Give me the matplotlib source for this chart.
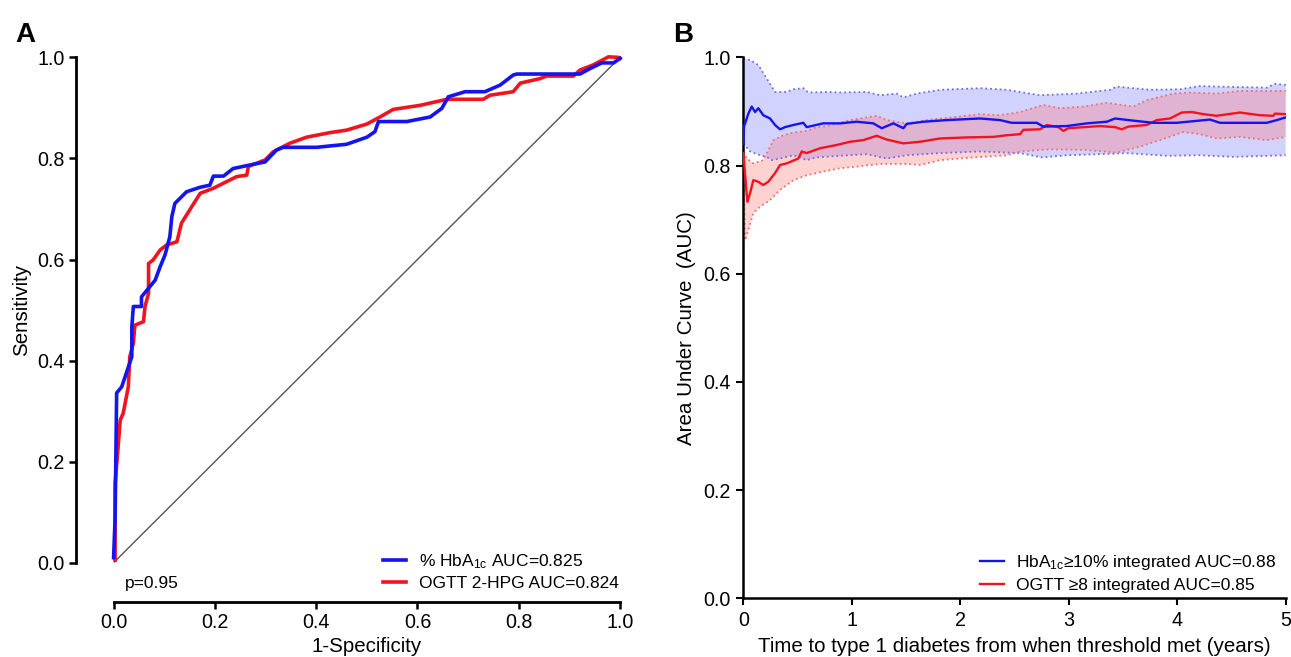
import numpy as np
import matplotlib
matplotlib.use("Agg")
import matplotlib.pyplot as plt

plt.rcParams['font.family'] = ['Liberation Sans', 'DejaVu Sans']
plt.rcParams['mathtext.fontset'] = 'custom'
plt.rcParams['mathtext.rm'] = 'Liberation Sans'
plt.rcParams['mathtext.it'] = 'Liberation Sans:italic'

# ---- panel A: ROC curves ----
hba1c_fpr = [0.0, 0.003, 0.006, 0.016, 0.036, 0.036, 0.039, 0.055, 0.055, 0.082, 0.092, 0.1015,
             0.111, 0.115, 0.121, 0.144, 0.171, 0.190, 0.197, 0.217, 0.236, 0.269, 0.299, 0.322,
             0.335, 0.401, 0.460, 0.500, 0.516, 0.523, 0.579, 0.625, 0.648, 0.661, 0.694, 0.733,
             0.763, 0.789, 0.796, 0.921, 0.941, 0.964, 0.987, 1.0]
hba1c_sens = [0.01, 0.09, 0.336, 0.348, 0.408, 0.467, 0.507, 0.507, 0.526, 0.559, 0.586, 0.609,
              0.645, 0.685, 0.711, 0.734, 0.743, 0.747, 0.765, 0.765, 0.780, 0.787, 0.793, 0.817,
              0.822, 0.822, 0.828, 0.842, 0.853, 0.873, 0.873, 0.882, 0.899, 0.922, 0.932, 0.932,
              0.945, 0.965, 0.967, 0.967, 0.978, 0.989, 0.989, 0.998]

ogtt_fpr = [0.003, 0.003, 0.009, 0.013, 0.019, 0.029, 0.032, 0.039, 0.042, 0.059, 0.062, 0.069,
            0.069, 0.078, 0.092, 0.105, 0.125, 0.134, 0.154, 0.171, 0.197, 0.223, 0.243, 0.263,
            0.266, 0.299, 0.315, 0.348, 0.381, 0.427, 0.460, 0.500, 0.526, 0.552, 0.605, 0.658,
            0.730, 0.743, 0.789, 0.803, 0.842, 0.855, 0.908, 0.921, 0.947, 0.977, 0.997, 1.0]
ogtt_sens = [0.005, 0.157, 0.23, 0.282, 0.296, 0.348, 0.408, 0.434, 0.470, 0.477, 0.507, 0.533,
             0.592, 0.599, 0.619, 0.629, 0.635, 0.672, 0.704, 0.731, 0.741, 0.754, 0.764, 0.767,
             0.784, 0.797, 0.813, 0.830, 0.842, 0.851, 0.856, 0.868, 0.882, 0.897, 0.905, 0.917,
             0.917, 0.925, 0.932, 0.949, 0.958, 0.963, 0.963, 0.975, 0.985, 1.001, 1.0, 0.998]

label_a1 = "% HbA$_{\\mathrm{1c}}$ AUC=0.825"
label_a2 = "OGTT 2-HPG AUC=0.824"
p_text = "p=0.95"

# ---- panel B: time-dependent AUC ----
hb_t = [0.0, 0.006, 0.046, 0.077, 0.108, 0.138, 0.184, 0.246, 0.292, 0.338, 0.384, 0.461, 0.553,
        0.584, 0.737, 0.891, 1.045, 1.198, 1.276, 1.383, 1.475, 1.506, 1.659, 1.875, 2.182, 2.366,
        2.474, 2.705, 2.766, 2.981, 3.166, 3.350, 3.427, 3.595, 3.780, 3.995, 4.302, 4.394, 4.825,
        4.917, 5.0]
hb_auc = [0.84, 0.872, 0.896, 0.909, 0.899, 0.906, 0.893, 0.887, 0.875, 0.867, 0.871, 0.875, 0.879,
          0.871, 0.878, 0.878, 0.881, 0.878, 0.869, 0.878, 0.869, 0.877, 0.881, 0.884, 0.887, 0.884,
          0.879, 0.879, 0.872, 0.873, 0.878, 0.881, 0.887, 0.883, 0.879, 0.879, 0.885, 0.879, 0.879,
          0.884, 0.889]
hb_up_t = [0.0, 0.062, 0.138, 0.215, 0.292, 0.400, 0.461, 0.553, 0.599, 0.769, 0.891, 1.138, 1.260,
           1.414, 1.475, 1.598, 1.813, 2.182, 2.428, 2.735, 3.073, 3.380, 3.442, 3.749, 4.026, 4.210,
           4.364, 4.825, 4.901, 5.0]
hb_up = [0.998, 0.995, 0.986, 0.961, 0.936, 0.936, 0.941, 0.943, 0.935, 0.936, 0.935, 0.936, 0.930,
         0.933, 0.926, 0.933, 0.940, 0.943, 0.940, 0.930, 0.933, 0.940, 0.946, 0.940, 0.941, 0.947,
         0.946, 0.944, 0.951, 0.949]
hb_lo_t = [0.0, 0.062, 0.154, 0.215, 0.262, 0.338, 0.461, 0.584, 0.676, 0.891, 1.138, 1.322, 1.506,
           1.813, 2.182, 2.428, 2.551, 2.751, 2.981, 3.288, 3.534, 3.903, 4.210, 4.517, 5.0]
hb_lo = [0.841, 0.826, 0.819, 0.816, 0.810, 0.813, 0.819, 0.810, 0.815, 0.818, 0.821, 0.813, 0.819,
         0.823, 0.826, 0.824, 0.823, 0.815, 0.819, 0.821, 0.823, 0.818, 0.819, 0.816, 0.819]

og_t = [0.0, 0.037, 0.062, 0.092, 0.138, 0.184, 0.230, 0.292, 0.338, 0.400, 0.507, 0.538, 0.584,
        0.707, 0.861, 0.984, 1.106, 1.230, 1.322, 1.475, 1.629, 1.813, 2.059, 2.305, 2.428, 2.551,
        2.581, 2.735, 2.797, 2.904, 2.950, 2.996, 3.288, 3.427, 3.488, 3.549, 3.719, 3.811, 3.934,
        4.041, 4.134, 4.240, 4.364, 4.579, 4.763, 4.886, 4.901, 5.0]
og_auc = [0.823, 0.733, 0.749, 0.773, 0.770, 0.764, 0.770, 0.786, 0.801, 0.804, 0.813, 0.826, 0.823,
          0.832, 0.838, 0.844, 0.847, 0.855, 0.848, 0.841, 0.844, 0.850, 0.852, 0.853, 0.856, 0.858,
          0.866, 0.867, 0.875, 0.871, 0.864, 0.869, 0.873, 0.871, 0.867, 0.872, 0.875, 0.884, 0.887,
          0.898, 0.899, 0.895, 0.892, 0.898, 0.893, 0.892, 0.896, 0.895]
og_up_t = [0.0, 0.031, 0.092, 0.184, 0.277, 0.369, 0.461, 0.584, 0.676, 0.769, 0.984, 1.138, 1.230,
           1.322, 1.506, 1.721, 1.967, 2.182, 2.366, 2.551, 2.766, 2.919, 3.134, 3.350, 3.595, 3.719,
           3.964, 4.118, 4.364, 4.579, 5.0]
og_up = [0.825, 0.813, 0.804, 0.810, 0.847, 0.856, 0.861, 0.864, 0.871, 0.873, 0.884, 0.889, 0.892,
         0.884, 0.878, 0.885, 0.890, 0.895, 0.893, 0.899, 0.912, 0.906, 0.909, 0.916, 0.909, 0.921,
         0.933, 0.935, 0.933, 0.938, 0.938]
og_lo_t = [0.0, 0.016, 0.046, 0.092, 0.154, 0.246, 0.338, 0.461, 0.584, 0.737, 0.891, 1.045, 1.260,
           1.506, 1.629, 1.813, 2.120, 2.428, 2.551, 2.827, 3.134, 3.442, 3.657, 3.841, 4.056, 4.210,
           4.364, 4.579, 4.825, 5.0]
og_lo = [0.80, 0.662, 0.681, 0.712, 0.724, 0.736, 0.755, 0.773, 0.782, 0.789, 0.795, 0.798, 0.803,
         0.803, 0.801, 0.810, 0.815, 0.819, 0.826, 0.830, 0.829, 0.824, 0.835, 0.847, 0.862, 0.858,
         0.850, 0.853, 0.847, 0.853]

label_b1 = "HbA$_{\\mathrm{1c}}$\u226510% integrated AUC=0.88"
label_b2 = "OGTT \u22658 integrated AUC=0.85"

blue = '#1414f0'
red = '#f0141e'
fs = 14.2
fs_lab = 14.8

fig = plt.figure(figsize=(12.91, 6.57), dpi=100)

# ---------- A ----------
ax = fig.add_axes([0.0880, 0.1435, 0.3923, 0.7692])
ax.plot([0, 1], [0, 1], color='#555555', lw=1.0, zorder=1)
ax.plot(hba1c_fpr, hba1c_sens, color=blue, lw=2.6, label=label_a1, zorder=3, clip_on=False)
ax.plot(ogtt_fpr, ogtt_sens, color=red, lw=2.6, label=label_a2, zorder=2, clip_on=False)
ax.set_xlim(0, 1)
ax.set_ylim(0, 1)
ax.set_xticks(np.arange(0, 1.01, 0.2))
ax.set_yticks(np.arange(0, 1.01, 0.2))
ax.set_xticklabels(["%.1f" % v for v in np.arange(0, 1.01, 0.2)])
ax.set_yticklabels(["%.1f" % v for v in np.arange(0, 1.01, 0.2)])
for s in ['top', 'right']:
    ax.spines[s].set_visible(False)
ax.spines['left'].set_position(('outward', 27.3))
ax.spines['bottom'].set_position(('outward', 28))
ax.spines['left'].set_bounds(0, 1)
ax.spines['bottom'].set_bounds(0, 1)
ax.spines['left'].set_linewidth(2)
ax.spines['bottom'].set_linewidth(2)
ax.tick_params(direction='out', length=5, width=1.8, labelsize=fs, pad=3)
ax.set_xlabel("1-Specificity", fontsize=fs_lab, labelpad=4)
ax.set_ylabel("Sensitivity", fontsize=fs_lab, labelpad=4)
ax.text(0.023, -0.041, p_text, fontsize=12.5, va='center', ha='left')
ax.legend(loc='upper left', bbox_to_anchor=(383 / 1291, (657 - 552) / 657),
          bbox_transform=fig.transFigure, frameon=False, fontsize=12.5,
          handlelength=1.3, handletextpad=0.75, labelspacing=0.32,
          borderpad=0, borderaxespad=0)
fig.text(25 / 1291, 1 - 35 / 657, "A", fontsize=20, fontweight='bold', ha='center', va='center')

# ---------- B ----------
bx = fig.add_axes([0.5758, 0.0893, 0.4201, 0.8234])
bx.fill(hb_up_t + hb_lo_t[::-1], hb_up + hb_lo[::-1], color=(0.45, 0.45, 1.0), alpha=0.32, lw=0)
bx.fill(og_up_t + og_lo_t[::-1], og_up + og_lo[::-1], color=(1.0, 0.45, 0.45), alpha=0.32, lw=0)
bx.plot(hb_up_t, hb_up, ls=':', color='#7070e0', lw=1.3)
bx.plot(hb_lo_t, hb_lo, ls=':', color='#7070e0', lw=1.3)
bx.plot(og_up_t, og_up, ls=':', color='#f07070', lw=1.3)
bx.plot(og_lo_t, og_lo, ls=':', color='#f07070', lw=1.3)
bx.plot(hb_t, hb_auc, color=blue, lw=1.7, label=label_b1, zorder=4)
bx.plot(og_t, og_auc, color=red, lw=1.7, label=label_b2, zorder=3)
bx.set_xlim(0, 5)
bx.set_ylim(0, 1)
bx.set_xticks(range(0, 6))
bx.set_yticks(np.arange(0, 1.01, 0.2))
bx.set_yticklabels(["%.1f" % v for v in np.arange(0, 1.01, 0.2)])
for s in ['top', 'right']:
    bx.spines[s].set_visible(False)
bx.spines['left'].set_linewidth(1.8)
bx.spines['bottom'].set_linewidth(1.8)
bx.tick_params(direction='out', length=5, width=1.5, labelsize=fs, pad=4)
bx.set_xlabel("Time to type 1 diabetes from when threshold met (years)", fontsize=fs_lab, labelpad=5)
bx.set_ylabel("Area Under Curve  (AUC)", fontsize=fs_lab, labelpad=5)
bx.legend(loc='upper left', bbox_to_anchor=(980 / 1291, (657 - 553) / 657),
          bbox_transform=fig.transFigure, frameon=False, fontsize=12.5,
          handlelength=1.4, handletextpad=0.7, labelspacing=0.32,
          borderpad=0, borderaxespad=0)
fig.text(683 / 1291, 1 - 35 / 657, "B", fontsize=20, fontweight='bold', ha='center', va='center')

fig.savefig("out.png", dpi=100)
